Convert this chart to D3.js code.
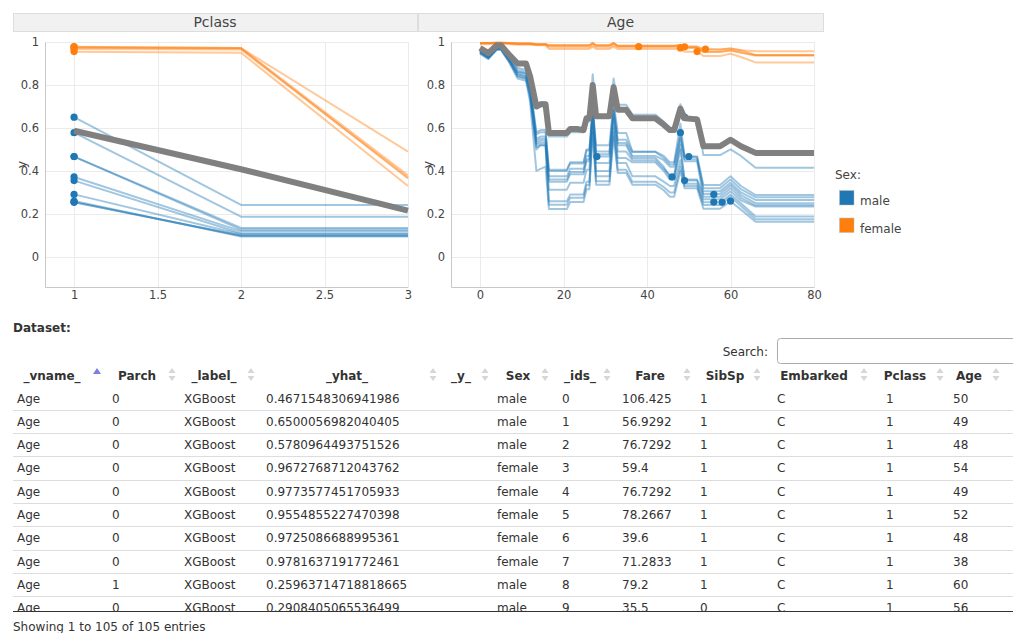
<!DOCTYPE html>
<html><head><meta charset="utf-8">
<script src="https://cdn.jsdelivr.net/npm/d3@7"></script>
<style>
html,body{margin:0;padding:0;background:#fff;}
svg{display:block;font-family:"DejaVu Sans",Verdana,sans-serif;}
</style></head><body>
<svg id="chart" width="1013" height="633"></svg>
<script>
// ---------------- DATA ----------------
const obsIds      = [0,1,2,3,4,5,6,7,8,9,10,11,12,13,14];
const obsSex      = ["male","male","male","female","female","female","female","female","male","male","male","male","male","male","male"];
const obsAge      = [50,49,48,54,49,52,48,38,60,56,28,46,49,56,58];
const obsPclass   = [1,1,1,1,1,1,1,1,1,1,1,1,1,1,1];
const obsYhat     = [0.4671548306941986,0.6500056982040405,0.5780964493751526,0.9672768712043762,0.9773577451705933,0.9554855227470398,0.9725086688995361,0.9781637191772461,0.25963714718818665,0.2908405065536499,0.467,0.372,0.355,0.255,0.254];
const obsParch    = [0,0,0,0,0,0,0,0,1,0];
const obsFare     = [106.425,56.9292,76.7292,59.4,76.7292,78.2667,39.6,71.2833,79.2,35.5];
const obsSibSp    = [1,1,1,1,1,1,1,1,1,0];
const obsEmbarked = ["C","C","C","C","C","C","C","C","C","C"];
const modelLabel  = "XGBoost";

const sexLevels = ["male","female"];

// Pclass ceteris-paribus grid and profiles (one row per observation id)
const pclassGrid = [1,2,3];
const pclassProfiles = [
  [0.467,0.135,0.135],
  [0.650,0.242,0.242],
  [0.578,0.187,0.187],
  [0.967,0.965,0.370],
  [0.977,0.972,0.380],
  [0.955,0.950,0.330],
  [0.973,0.970,0.365],
  [0.978,0.972,0.490],
  [0.260,0.095,0.095],
  [0.291,0.105,0.105],
  [0.467,0.127,0.127],
  [0.372,0.120,0.120],
  [0.355,0.110,0.110],
  [0.255,0.100,0.100],
  [0.254,0.098,0.098]
];
const pclassMean = [0.587,0.408,0.215];

// Age ceteris-paribus grid and profiles
const ageGrid = [0,2,4,5,7,9,11,12,13.5,14.5,15.7,16.5,20.8,21.6,23.2,24.8,25.5,26.2,27,27.8,31,32,33,35,36.5,42,44,45.5,46.5,48,49,52,53.5,57.5,60,62.5,66,80];
const ageProfiles = [
  // id 0
  [0.96,0.935,0.975,0.975,0.93,0.88,0.87,0.80,0.58,0.59,0.59,0.406,0.406,0.44,0.44,0.44,0.50,0.50,0.70,0.52,0.52,0.72,0.577,0.577,0.49,0.49,0.47,0.44,0.44,0.62,0.467,0.467,0.335,0.335,0.375,0.33,0.288,0.288],
  // id 1
  [0.965,0.94,0.98,0.98,0.935,0.90,0.89,0.82,0.70,0.72,0.72,0.56,0.56,0.58,0.58,0.58,0.63,0.63,0.85,0.655,0.655,0.83,0.708,0.708,0.662,0.662,0.63,0.60,0.60,0.71,0.65,0.65,0.474,0.474,0.50,0.47,0.415,0.415],
  // id 2
  [0.96,0.935,0.975,0.975,0.925,0.87,0.86,0.79,0.57,0.58,0.58,0.40,0.40,0.435,0.435,0.435,0.495,0.495,0.69,0.49,0.49,0.70,0.545,0.545,0.488,0.488,0.46,0.43,0.43,0.578,0.467,0.465,0.32,0.32,0.36,0.315,0.278,0.278],
  // id 3
  [0.995,0.995,0.997,0.997,0.995,0.993,0.993,0.993,0.99,0.99,0.99,0.985,0.985,0.985,0.985,0.985,0.985,0.985,0.995,0.985,0.985,0.995,0.983,0.983,0.983,0.983,0.983,0.983,0.983,0.985,0.98,0.98,0.967,0.965,0.97,0.962,0.94,0.94],
  // id 4
  [0.995,0.995,0.997,0.997,0.995,0.993,0.993,0.993,0.99,0.99,0.99,0.983,0.983,0.983,0.983,0.983,0.983,0.983,0.993,0.983,0.983,0.993,0.982,0.982,0.982,0.982,0.982,0.982,0.982,0.985,0.977,0.975,0.953,0.953,0.96,0.95,0.937,0.937],
  // id 5
  [0.99,0.99,0.993,0.993,0.99,0.988,0.988,0.988,0.985,0.985,0.985,0.968,0.968,0.968,0.968,0.968,0.968,0.968,0.978,0.968,0.968,0.978,0.967,0.967,0.967,0.967,0.967,0.967,0.967,0.97,0.955,0.955,0.935,0.935,0.945,0.93,0.905,0.905],
  // id 6
  [0.993,0.993,0.995,0.995,0.993,0.99,0.99,0.99,0.987,0.987,0.987,0.975,0.975,0.975,0.975,0.975,0.975,0.975,0.985,0.975,0.975,0.985,0.975,0.975,0.975,0.975,0.975,0.975,0.975,0.973,0.972,0.972,0.955,0.955,0.962,0.952,0.938,0.938],
  // id 7
  [0.995,0.995,0.997,0.997,0.995,0.993,0.993,0.993,0.99,0.99,0.99,0.985,0.985,0.985,0.985,0.985,0.985,0.985,0.995,0.985,0.985,0.995,0.98,0.98,0.98,0.98,0.98,0.98,0.98,0.985,0.975,0.975,0.965,0.965,0.97,0.962,0.957,0.957],
  // id 8
  [0.945,0.92,0.965,0.965,0.905,0.83,0.82,0.72,0.40,0.41,0.42,0.223,0.223,0.255,0.255,0.255,0.315,0.315,0.58,0.336,0.336,0.56,0.39,0.39,0.336,0.336,0.31,0.28,0.28,0.40,0.32,0.32,0.224,0.224,0.259,0.22,0.164,0.164],
  // id 9
  [0.95,0.925,0.97,0.97,0.915,0.85,0.84,0.76,0.52,0.53,0.53,0.313,0.313,0.345,0.345,0.345,0.405,0.405,0.66,0.40,0.40,0.64,0.46,0.46,0.44,0.44,0.40,0.36,0.36,0.50,0.36,0.36,0.293,0.293,0.333,0.288,0.25,0.25],
  // id 10
  [0.955,0.93,0.975,0.975,0.92,0.86,0.855,0.78,0.55,0.56,0.56,0.375,0.375,0.41,0.41,0.41,0.47,0.47,0.68,0.467,0.467,0.68,0.53,0.53,0.47,0.47,0.45,0.42,0.42,0.56,0.455,0.455,0.305,0.305,0.345,0.30,0.265,0.265],
  // id 11
  [0.955,0.93,0.97,0.97,0.92,0.86,0.85,0.78,0.54,0.55,0.55,0.36,0.36,0.395,0.395,0.395,0.455,0.455,0.68,0.478,0.478,0.68,0.52,0.52,0.46,0.46,0.42,0.37,0.37,0.55,0.445,0.445,0.28,0.28,0.32,0.275,0.24,0.24],
  // id 12
  [0.955,0.93,0.97,0.97,0.915,0.85,0.84,0.77,0.53,0.54,0.54,0.35,0.35,0.385,0.385,0.385,0.445,0.445,0.67,0.437,0.437,0.66,0.49,0.49,0.45,0.45,0.41,0.38,0.38,0.52,0.355,0.355,0.268,0.268,0.305,0.263,0.234,0.234],
  // id 13
  [0.95,0.925,0.965,0.965,0.91,0.84,0.83,0.75,0.51,0.52,0.52,0.259,0.259,0.29,0.29,0.29,0.35,0.35,0.62,0.375,0.375,0.60,0.437,0.437,0.375,0.375,0.35,0.33,0.33,0.45,0.34,0.34,0.254,0.254,0.29,0.25,0.188,0.188],
  // id 14
  [0.95,0.925,0.965,0.965,0.91,0.84,0.83,0.74,0.50,0.52,0.52,0.243,0.243,0.275,0.275,0.275,0.335,0.335,0.60,0.352,0.352,0.58,0.406,0.406,0.35,0.35,0.325,0.30,0.30,0.42,0.33,0.33,0.242,0.242,0.28,0.237,0.175,0.175]
];
const ageMean = [0.972,0.948,0.985,0.985,0.94,0.90,0.90,0.84,0.70,0.71,0.71,0.577,0.577,0.595,0.595,0.59,0.645,0.645,0.80,0.655,0.655,0.79,0.685,0.685,0.645,0.645,0.615,0.59,0.59,0.69,0.645,0.64,0.515,0.515,0.545,0.515,0.484,0.484];

const yTicks = [0,0.2,0.4,0.6,0.8,1];
const pclassTicks = [1,1.5,2,2.5,3];
const ageTicks = [0,20,40,60,80];

const tableHeader = ["_vname_","Parch","_label_","_yhat_","_y_","Sex","_ids_","Fare","SibSp","Embarked","Pclass","Age"];
const tableTotal = 105;

// ---------------- LAYOUT / STYLE ----------------
const colors = {male:"#1f77b4", female:"#ff7f0e"};
const svg = d3.select("#chart");
const y = d3.scaleLinear().domain([-0.14, 1.0]).range([287, 42]);
const fmt = d3.format("~g");

const panels = [
  {title:"Pclass", range:[45,408], domain:[0.826,3], strip:[13,417], ticks:pclassTicks,
   grid:pclassGrid, profiles:pclassProfiles, mean:pclassMean, obsX:obsPclass, yTitleX:26},
  {title:"Age", range:[451,814], domain:[-6.95,80], strip:[418,823], ticks:ageTicks,
   grid:ageGrid, profiles:ageProfiles, mean:ageMean, obsX:obsAge, yTitleX:432}
];

panels.forEach(p => {
  const x = d3.scaleLinear().domain(p.domain).range(p.range);
  const g = svg.append("g");
  // strip
  g.append("rect").attr("x", p.strip[0]+0.5).attr("y", 13.5)
    .attr("width", p.strip[1]-p.strip[0]).attr("height", 18)
    .attr("fill", "#f1f1f1").attr("stroke", "#dddddd");
  g.append("text").attr("x", (p.strip[0]+p.strip[1])/2).attr("y", 27)
    .attr("text-anchor","middle").attr("font-size",14).attr("fill","#444").text(p.title);
  // grid
  g.append("g").selectAll("line").data(yTicks).join("line")
    .attr("x1", p.range[0]).attr("x2", p.range[1])
    .attr("y1", d => Math.round(y(d))+0.5).attr("y2", d => Math.round(y(d))+0.5)
    .attr("stroke","#ebebeb");
  g.append("g").selectAll("line").data(p.ticks).join("line")
    .attr("x1", d => Math.round(x(d))+0.5).attr("x2", d => Math.round(x(d))+0.5)
    .attr("y1", y.range()[1]).attr("y2", y.range()[0])
    .attr("stroke","#ebebeb");
  // axes
  const ax = g.append("g").attr("transform", `translate(0,${y.range()[0]})`)
    .call(d3.axisBottom(x).tickValues(p.ticks).tickFormat(fmt).tickSize(0).tickPadding(4));
  ax.select(".domain").attr("stroke","#c8c8c8");
  ax.selectAll("text").attr("font-size",11.5).attr("fill","#444").attr("font-family","DejaVu Sans");
  const ay = g.append("g").attr("transform", `translate(${p.range[0]},0)`)
    .call(d3.axisLeft(y).tickValues(yTicks).tickFormat(fmt).tickSize(0).tickPadding(6));
  ay.select(".domain").attr("stroke","#c8c8c8");
  ay.selectAll("text").attr("font-size",11.5).attr("fill","#444").attr("font-family","DejaVu Sans");
  // y title
  g.append("text").attr("transform", `translate(${p.yTitleX},${(y.range()[0]+y.range()[1])/2}) rotate(-90)`)
    .attr("text-anchor","middle").attr("font-size",12.5).attr("fill","#444").text("y");

  // profile lines
  const line = d3.line().x(d => x(d[0])).y(d => y(d[1]));
  g.append("g").selectAll("path").data(obsIds).join("path")
    .attr("d", i => line(d3.zip(p.grid, p.profiles[i])))
    .attr("fill","none").attr("stroke", i => colors[obsSex[i]])
    .attr("stroke-width",2).attr("stroke-opacity",0.42).attr("stroke-linejoin","round");
  // observation points
  g.append("g").selectAll("circle").data(obsIds).join("circle")
    .attr("cx", i => x(p.obsX[i])).attr("cy", i => y(obsYhat[i])).attr("r",3.6)
    .attr("fill", i => colors[obsSex[i]]);
  // mean profile
  g.append("path").attr("d", line(d3.zip(p.grid, p.mean)))
    .attr("fill","none").attr("stroke","#808080").attr("stroke-width",6)
    .attr("stroke-linejoin","round");
});

// legend
const lg = svg.append("g");
lg.append("text").attr("x",835).attr("y",179).attr("font-size",12).attr("fill","#444").text("Sex:");
sexLevels.forEach((s,k) => {
  lg.append("rect").attr("x",839.5).attr("y",190.5+k*27.5).attr("width",14.5).attr("height",14.5)
    .attr("fill",colors[s]).attr("stroke","#bbb").attr("stroke-width",0.5);
  lg.append("text").attr("x",860).attr("y",205+k*27.5).attr("font-size",12).attr("fill","#444").text(s);
});

// ---------------- TABLE ----------------
const tg = svg.append("g").attr("fill","#333").attr("font-size",12);
tg.append("text").attr("x",13).attr("y",332).attr("font-weight","bold").text("Dataset:");
tg.append("text").attr("x",768).attr("y",356).attr("text-anchor","end").text("Search:");
tg.append("rect").attr("x",777.5).attr("y",338.5).attr("width",260).attr("height",25).attr("rx",3)
  .attr("fill","#fff").attr("stroke","#aaa");

const headCx  = [52,137,214,347,461,518,580,650,725,814,905,969];
const iconX   = [97,172,251,433,485,545,607,687,757,864,940,996];
const cellX   = [17,112,184,266,447,497,562,622,700,777,886,953];

tg.append("g").selectAll("text").data(tableHeader).join("text")
  .attr("x",(d,i)=>headCx[i]).attr("y",380).attr("text-anchor","middle")
  .attr("font-weight","bold").text(d=>d);
const tri = (cx,cy,up,w,h) => up ? `M${cx-w},${cy+h}L${cx+w},${cy+h}L${cx},${cy-h}Z`
                                 : `M${cx-w},${cy-h}L${cx+w},${cy-h}L${cx},${cy+h}Z`;
tableHeader.forEach((h,i) => {
  if (i === 0) {
    tg.append("path").attr("d", tri(iconX[i],371,true,4,3)).attr("fill","#7f7fdf");
  } else {
    tg.append("path").attr("d", tri(iconX[i],370.5,true,3.5,2.5)).attr("fill","#d6d6d6");
    tg.append("path").attr("d", tri(iconX[i],378.5,false,3.5,2.5)).attr("fill","#d6d6d6");
  }
});

svg.append("defs").append("clipPath").attr("id","bodyclip")
  .append("rect").attr("x",0).attr("y",387).attr("width",1013).attr("height",224);
const body = tg.append("g").attr("clip-path","url(#bodyclip)");
const rowH = 23.33;
const visibleRows = d3.range(obsParch.length);
const rowCells = r => ["Age", String(obsParch[r]), modelLabel, String(obsYhat[r]), "", obsSex[r],
                       String(obsIds[r]), String(obsFare[r]), String(obsSibSp[r]), obsEmbarked[r],
                       String(obsPclass[r]), String(obsAge[r])];
visibleRows.forEach(r => {
  const cy = 398 + r*rowH;
  if (r > 0) body.append("line").attr("x1",13).attr("x2",1013)
      .attr("y1",Math.round(cy-11.7)+0.5).attr("y2",Math.round(cy-11.7)+0.5).attr("stroke","#dddddd");
  body.append("g").selectAll("text").data(rowCells(r)).join("text")
    .attr("x",(d,i)=>cellX[i]).attr("y",cy+4.5).text(d=>d);
});
svg.append("line").attr("x1",13).attr("x2",1013).attr("y1",611.5).attr("y2",611.5)
  .attr("stroke","#333").attr("stroke-width",1);
tg.append("text").attr("x",13).attr("y",631)
  .text(`Showing 1 to ${tableTotal} of ${tableTotal} entries`);
</script>
</body></html>
